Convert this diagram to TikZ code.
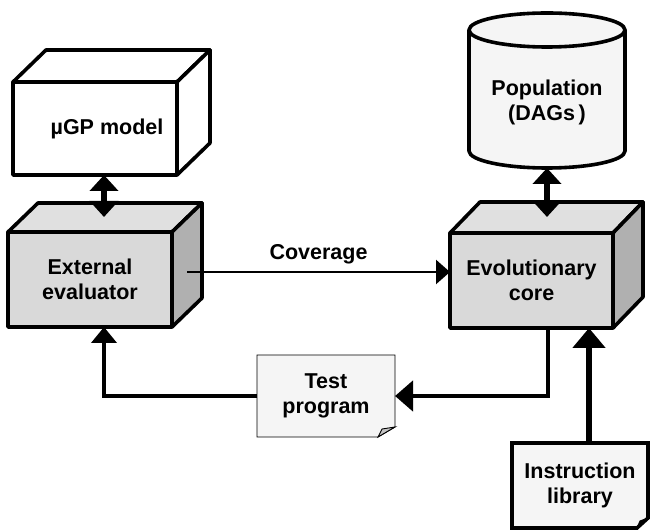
\documentclass[tikz,border=0pt]{standalone}
\usepackage{fontspec}
\setmainfont{Liberation Sans}
\usetikzlibrary{arrows.meta,calc,backgrounds}

\definecolor{frontgray}{HTML}{D9D9D9}
\definecolor{topgray}{HTML}{E0E0E0}
\definecolor{sidegray}{HTML}{B0B0B0}
\definecolor{paper}{HTML}{F5F5F5}
\definecolor{foldgray}{HTML}{C4C4C4}

% top and side faces of a box whose front face is the node #1
\newcommand{\boxsides}[5]{%
  \draw[face, fill=#2] (#1.north west) -- ++(#4,#5) -- ($(#1.north east)+(#4,#5)$) -- (#1.north east) -- cycle;
  \draw[face, fill=#3] (#1.north east) -- ++(#4,#5) -- ($(#1.south east)+(#4,#5)$) -- (#1.south east) -- cycle;
}

\begin{document}
\begin{tikzpicture}[x=1pt,y=1pt,
  lbl/.style={font=\bfseries\fontsize{21.5}{25}\selectfont, align=center},
  face/.style={draw, line width=3.6pt, line join=round},
  frontface/.style={lbl, face, inner sep=0pt, outer sep=0pt, minimum width=164pt, minimum height=95pt},
  docbox/.style={lbl, inner sep=0pt, outer sep=0pt},
  wire/.style={line width=4.8pt},
  dbl/.style={line width=6pt, {Triangle[width=28pt,length=16pt]}-{Triangle[width=28pt,length=16pt]}}
]
\useasboundingbox (0,0) rectangle (650,530);

% boxes
\node[frontface, fill=white, minimum height=93pt] (mugp) at (95,401.5) {\hspace*{24pt}µGP model};
\boxsides{mugp}{white}{white}{33}{32}

\node[frontface, fill=frontgray] (ext) at (90,250.5) {External\\evaluator};
\boxsides{ext}{topgray}{sidegray}{30}{29}

\node[frontface, fill=frontgray, minimum width=163pt] (evo) at (531.5,249.5) {Evolutionary\\core};
\boxsides{evo}{topgray}{sidegray}{30}{31}

% population store
\begin{scope}[on background layer]
  \draw[face, fill=paper] (469,500) -- (469,379)
    arc[start angle=180, end angle=360, x radius=78, y radius=17] -- (625,500)
    arc[start angle=0, end angle=180, x radius=78, y radius=17] -- cycle;
  \draw[face] (469,500) arc[start angle=180, end angle=360, x radius=78, y radius=17];
\end{scope}
\node[lbl] (pop) at (547,428) {Population\\(DAGs\,)};
\coordinate (popbase) at (547,362);

% documents
\node[docbox, minimum width=138pt, minimum height=82pt] (test) at (326,134) {Test\\program};
\begin{scope}[on background layer]
  \draw[line width=0.9pt, fill=paper] (test.north west) -- (test.north east)
    -- ($(test.south east)+(0,10)$) -- ($(test.south east)+(-17,0)$) -- (test.south west) -- cycle;
  \draw[line width=0.9pt, fill=foldgray] ($(test.south east)+(0,10)$) -- ($(test.south east)+(-17,0)$)
    -- ($(test.south east)+(-13,8)$) -- cycle;
\end{scope}

\node[docbox, minimum width=136pt, minimum height=85pt] (lib) at (580,44.5) {Instruction\\library};
\begin{scope}[on background layer]
  \draw[face, line join=miter, fill=paper] (lib.north west) -- (lib.north east)
    -- ($(lib.south east)+(0,10)$) -- ($(lib.south east)+(-11,0)$) -- (lib.south west) -- cycle;
  \draw[line width=1pt, fill=black] ($(lib.south east)+(0,10)$) -- ($(lib.south east)+(-11,0)$)
    -- ($(lib.south east)+(-8,7)$) -- cycle;
\end{scope}

% connectors
\draw[dbl] ($(mugp.south)+(9,0)$) -- ($(ext.north)+(14,15)$);
\draw[dbl] (popbase) -- ($(evo.north)+(15.5,16)$);

\coordinate (covstart) at (187,258);
\draw[line width=2.4pt, -{Triangle[width=24pt,length=14pt]}] (covstart) -- (covstart -| evo.west)
  node[midway, above=6.3pt, lbl, inner sep=0pt] {Coverage};

\draw[wire, -{Triangle[width=30pt,length=18pt]}] ($(evo.south)+(16.5,0)$) |- (test.east);
\draw[wire, -{Triangle[width=25pt,length=16pt]}] (test.west) -| ($(ext.south)+(14,0)$);
\draw[line width=6pt, -{Triangle[width=32pt,length=20pt]}] ($(lib.north)+(9,0)$) -- ($(evo.south)+(57.5,0)$);
\end{tikzpicture}
\end{document}
